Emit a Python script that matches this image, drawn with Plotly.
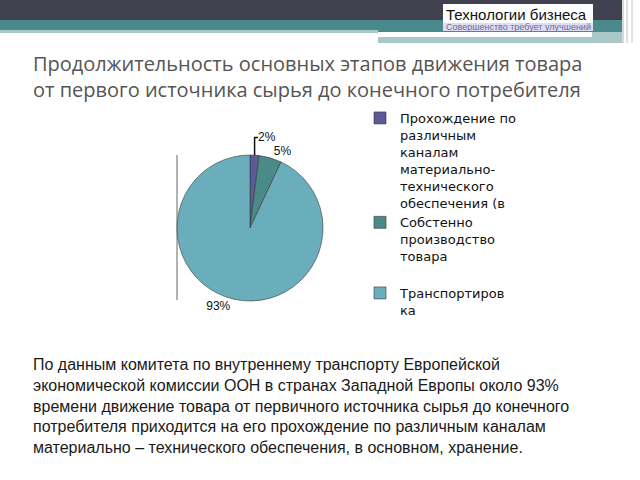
import plotly.graph_objects as go

# ---- data ----
legend_lines = [
    ["Прохождение по", "различным", "каналам", "материально-", "технического", "обеспечения (в"],
    ["Собстенно", "производство", "товара"],
    ["Транспортиров", "ка"],
]
values = [2, 5, 93]
colors = ["#5b5a98", "#4a8a88", "#6aaebb"]

title_lines = [
    "Продолжительность основных этапов движения товара",
    "от первого источника сырья до конечного потребителя",
]
body_lines = [
    "По данным комитета по внутреннему транспорту Европейской",
    "экономической комиссии ООН в странах Западной Европы около 93%",
    "времени движение товара от первичного источника сырья до конечного",
    "потребителя приходится на его прохождение по различным каналам",
    "материально – технического обеспечения, в основном, хранение.",
]
header_title = "Технологии бизнеса"
header_sub = "Совершенство требует улучшений"

W, H = 640, 480
def px(x):
    return x / W
def py(y):
    return 1 - y / H

# legend text with spacing after second item (as in the original legend layout)
pad = ["", "<br>&nbsp;", ""]
legend_text = ["<br>".join(l) + p for l, p in zip(legend_lines, pad)]

fig = go.Figure()
fig.add_trace(go.Pie(
    labels=legend_text,
    values=values,
    sort=False,
    direction="clockwise",
    rotation=0,
    marker=dict(colors=colors, line=dict(color="#3a3a3a", width=0.6)),
    textinfo="percent",
    textposition="outside",
    outsidetextfont=dict(family="Liberation Sans, Arial", size=12, color="#111"),
    domain=dict(x=[px(177), px(323)], y=[py(301), py(155)]),
    hoverinfo="label+percent",
    showlegend=True,
))

shapes = [
    # header bands
    dict(type="rect", x0=px(0), x1=px(622), y0=py(0), y1=py(20), fillcolor="#40404f", line_width=0),
    dict(type="rect", x0=px(0), x1=px(622), y0=py(20), y1=py(30), fillcolor="#4a8a8c", line_width=0),
    dict(type="rect", x0=px(0), x1=px(378), y0=py(30), y1=py(33), fillcolor="#a9c9c9", line_width=0),
    dict(type="rect", x0=px(378), x1=px(622), y0=py(30), y1=py(32), fillcolor="#4a8a8c", line_width=0),
    dict(type="rect", x0=px(378), x1=px(622), y0=py(37), y1=py(43), fillcolor="#a9c9c9", line_width=0),
    dict(type="rect", x0=px(592), x1=px(622), y0=py(32), y1=py(37), fillcolor="#a9c9c9", line_width=0),
    # header text boxes
    dict(type="rect", x0=px(443), x1=px(593), y0=py(4), y1=py(23), fillcolor="#ffffff", line_width=0),
    dict(type="rect", x0=px(443), x1=px(593), y0=py(23), y1=py(31), fillcolor="#dedcf2", line_width=0),
    # right vertical stripes
    dict(type="line", x0=px(623), x1=px(623), y0=py(0), y1=py(43), line=dict(color="#d8d8d8", width=2)),
    dict(type="line", x0=px(627), x1=px(627), y0=py(0), y1=py(43), line=dict(color="#bfbfbf", width=1)),
    dict(type="line", x0=px(632), x1=px(632), y0=py(0), y1=py(43), line=dict(color="#c8c8c8", width=1)),
    # chart-area left border
    dict(type="line", x0=px(177), x1=px(177), y0=py(155), y1=py(300), line=dict(color="#666666", width=1)),
]

annotations = [
    dict(text=header_title, x=px(444), y=py(14), xanchor="left", yanchor="middle",
         showarrow=False, font=dict(family="Liberation Sans, Arial", size=15, color="#111")),
    dict(text=header_sub, x=px(444), y=py(27), xanchor="left", yanchor="middle",
         showarrow=False, font=dict(family="Liberation Sans, Arial", size=9, color="#6a6a96")),
    dict(text="<br>".join(title_lines), x=px(31), y=py(48), xanchor="left", yanchor="top",
         align="left", showarrow=False,
         font=dict(family="Open Sans, Noto Sans", size=20, color="#555555")),
    dict(text="<br>".join(body_lines), x=px(31), y=py(354), xanchor="left", yanchor="top",
         align="left", showarrow=False,
         font=dict(family="Liberation Sans, Arial", size=16, color="#1a1a1a")),
]

fig.update_layout(
    width=W, height=H,
    margin=dict(l=0, r=0, t=0, b=0),
    paper_bgcolor="white",
    plot_bgcolor="white",
    shapes=shapes,
    annotations=annotations,
    legend=dict(x=px(360), y=py(103), xanchor="left", yanchor="top", valign="top",
                font=dict(family="DejaVu Sans", size=13, color="#111"),
                bgcolor="rgba(0,0,0,0)", tracegroupgap=0, itemwidth=30),
)

fig.write_html("out.html", config={"displayModeBar": False},
               post_script="document.body.style.margin='0';")
